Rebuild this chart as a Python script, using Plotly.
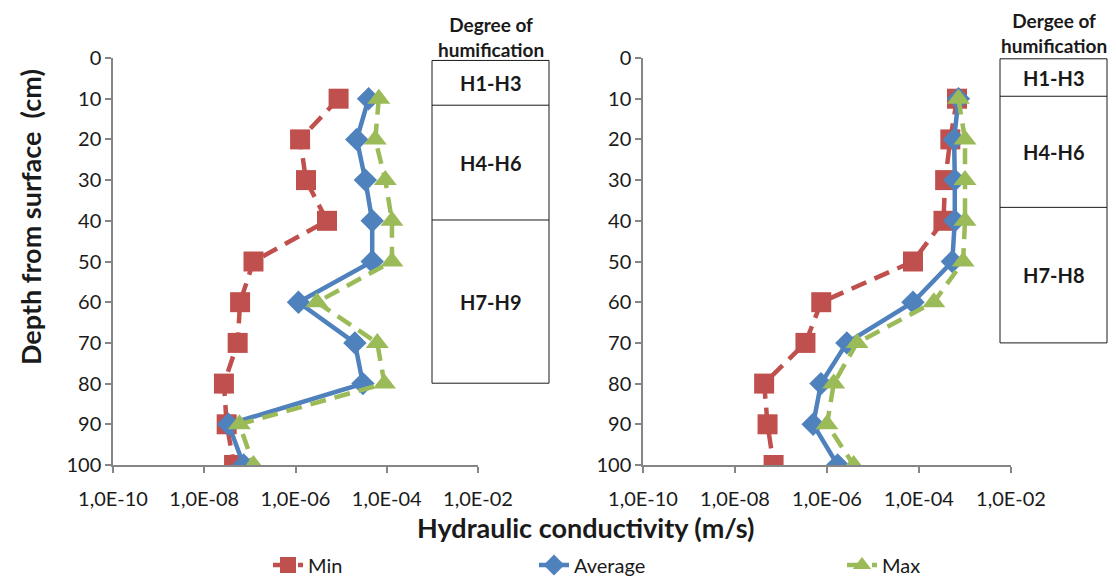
import plotly.graph_objects as go

depth = [10, 20, 30, 40, 50, 60, 70, 80, 90, 100]

left_min = [8.8e-6, 1.26e-6, 1.7e-6, 4.9e-6, 1.2e-7, 6.1e-8, 5.4e-8, 2.7e-8, 3.1e-8, 4.5e-8]
left_avg = [4.0e-5, 2.2e-5, 3.4e-5, 4.8e-5, 4.8e-5, 1.16e-6, 2.0e-5, 3.0e-5, 3.4e-8, 7.3e-8]
left_max = [6.7e-5, 5.6e-5, 9.3e-5, 1.3e-4, 1.3e-4, 2.95e-6, 6.2e-5, 8.9e-5, 5.9e-8, 1.2e-7]

right_min = [6.7e-4, 4.8e-4, 3.7e-4, 3.4e-4, 7.4e-5, 7.5e-7, 3.4e-7, 4.3e-8, 5.1e-8, 6.9e-8]
right_avg = [7.2e-4, 5.8e-4, 6.0e-4, 6.0e-4, 5.3e-4, 7.4e-5, 2.7e-6, 7.4e-7, 5.0e-7, 1.7e-6]
right_max = [7.2e-4, 1.0e-3, 1.0e-3, 1.0e-3, 9.1e-4, 2.1e-4, 4.5e-6, 1.4e-6, 1.0e-6, 3.8e-6]

x_tickvals = [1e-10, 1e-8, 1e-6, 1e-4, 1e-2]
x_ticktext = ["1,0E-10", "1,0E-08", "1,0E-06", "1,0E-04", "1,0E-02"]
y_tickvals = [0, 10, 20, 30, 40, 50, 60, 70, 80, 90, 100]

series_names = ["Min", "Average", "Max"]
colors = ["#C0504D", "#4F81BD", "#9BBB59"]
symbols = ["square", "diamond", "triangle-up"]
dashes = ["16px,9px", "solid", "16px,9px"]
marker_sizes = [20, 18, 20]

left_layers = ["H1-H3", "H4-H6", "H7-H9"]
right_layers = ["H1-H3", "H4-H6", "H7-H8"]
left_bounds = [0.6, 11.6, 39.8, 79.9]
right_bounds = [0.2, 9.4, 36.7, 70.0]

W, H = 1116, 576
ML, MR, MT, MB = 113, 105, 58, 111
PW = W - ML - MR
PH = H - MT - MB


def px_x(p):
    return (p - ML) / PW


def px_y(p):
    return (H - MB - p) / PH


FONT = "Lato"
TXT = "#1a1a1a"

fig = go.Figure()

legends = ["legend", "legend2", "legend3"]
for panel, (vals, xa, ya) in enumerate([
    ((left_min, left_avg, left_max), "x", "y"),
    ((right_min, right_avg, right_max), "x2", "y2"),
]):
    for i, v in enumerate(vals):
        fig.add_trace(go.Scatter(
            x=v, y=depth, mode="lines+markers", name=series_names[i],
            xaxis=xa, yaxis=ya,
            line=dict(color=colors[i], width=4.5, dash=dashes[i]),
            marker=dict(symbol=symbols[i], size=marker_sizes[i], color=colors[i]),
            showlegend=(panel == 0), legend=legends[i],
        ))

axis_common_x = dict(
    type="log", range=[-10, -2], tickvals=x_tickvals, ticktext=x_ticktext,
    showgrid=False, zeroline=False, showline=True, linecolor="#868686", linewidth=1.5,
    ticks="outside", ticklen=6, tickcolor="#868686", tickwidth=1.5,
    ticklabelstandoff=9,
    tickfont=dict(family=FONT, size=20, color=TXT),
)
axis_common_y = dict(
    range=[100, 0], tickvals=y_tickvals, ticksuffix="\u2002",
    showgrid=False, zeroline=False, showline=True, linecolor="#868686", linewidth=1.5,
    ticks="outside", ticklen=6, tickcolor="#868686", tickwidth=1.5,
    tickfont=dict(family=FONT, size=20, color=TXT),
)

left_dom = [0, px_x(478)]
right_dom = [px_x(643), 1]

fig.update_layout(
    width=W, height=H,
    margin=dict(l=ML, r=MR, t=MT, b=MB, autoexpand=False),
    paper_bgcolor="white", plot_bgcolor="white",
    font=dict(family=FONT, color=TXT),
    xaxis=dict(domain=left_dom, anchor="y", **axis_common_x),
    yaxis=dict(domain=[0, 1], anchor="x", **axis_common_y),
    xaxis2=dict(domain=right_dom, anchor="y2", **axis_common_x),
    yaxis2=dict(domain=[0, 1], anchor="x2", **axis_common_y),
)

legend_px = [268, 534, 842]
for i, lg in enumerate(legends):
    fig.update_layout(**{lg: dict(
        x=px_x(legend_px[i]), y=px_y(565), xanchor="left", yanchor="middle",
        orientation="h", bgcolor="rgba(0,0,0,0)",
        font=dict(family=FONT, size=20, color=TXT),
    )})

shapes = []
annotations = []

for bounds, layers, x0p, x1p, yref, title, title_y in [
    (left_bounds, left_layers, 432, 549, "y", "Degree of<br>humification", 37),
    (right_bounds, right_layers, 1000, 1107, "y2", "Dergee of<br>humification", 33),
]:
    x0, x1 = px_x(x0p), px_x(x1p)
    shapes.append(dict(type="rect", xref="paper", yref=yref, x0=x0, x1=x1,
                       y0=bounds[0], y1=bounds[-1], line=dict(color="#1a1a1a", width=1)))
    for b in bounds[1:-1]:
        shapes.append(dict(type="line", xref="paper", yref=yref, x0=x0, x1=x1,
                           y0=b, y1=b, line=dict(color="#1a1a1a", width=1)))
    for k, name in enumerate(layers):
        annotations.append(dict(
            xref="paper", yref=yref, x=(x0 + x1) / 2, y=(bounds[k] + bounds[k + 1]) / 2,
            xanchor="center", yanchor="middle",
            text="<b>%s</b>" % name, showarrow=False,
            font=dict(family=FONT, size=20, color=TXT),
        ))
    annotations.append(dict(
        xref="paper", yref="paper", x=(x0 + x1) / 2, y=px_y(title_y),
        xanchor="center", yanchor="middle",
        text="<b>%s</b>" % title, showarrow=False,
        font=dict(family=FONT, size=19, color=TXT),
    ))

annotations.append(dict(
    xref="paper", yref="paper", x=px_x(585), y=px_y(527),
    xanchor="center", yanchor="middle",
    text="<b>Hydraulic conductivity (m/s)</b>", showarrow=False,
    font=dict(family=FONT, size=27, color=TXT),
))
annotations.append(dict(
    xref="paper", yref="paper", x=px_x(31), y=px_y(217),
    xanchor="center", yanchor="middle",
    text="<b>Depth from surface  (cm)</b>", showarrow=False, textangle=-90,
    font=dict(family=FONT, size=27, color=TXT),
))

fig.update_layout(shapes=shapes, annotations=annotations)

fig.write_html("out.html")
